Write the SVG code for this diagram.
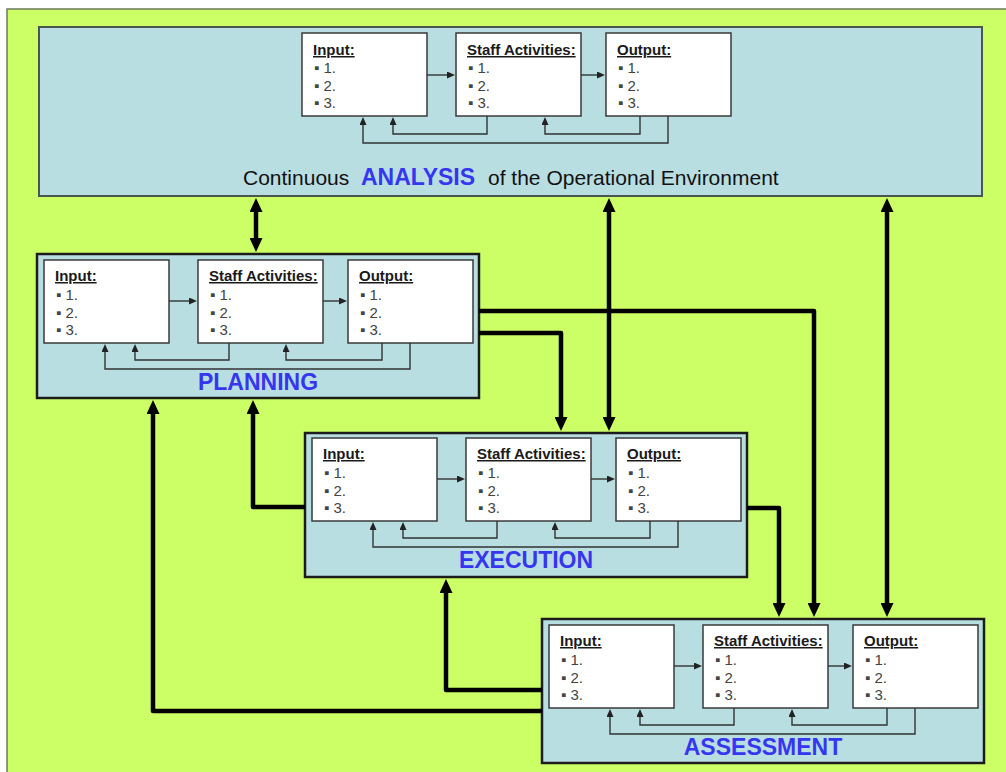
<svg xmlns="http://www.w3.org/2000/svg" width="1006" height="772" viewBox="0 0 1006 772">
  <style>
    .frame { fill: #ccff66; stroke: #6b7a5a; stroke-width: 1.5; }
    .panel { fill: #b9dee2; stroke: #1c1c1c; stroke-width: 2.5; }
    .panel-top { fill: #b9dee2; stroke: #4a5650; stroke-width: 2; }
    .box { fill: #ffffff; stroke: #3a3a3a; stroke-width: 1.5; }
    .head { font-family: "Liberation Sans", Arial, sans-serif; font-size: 15px; font-weight: bold; fill: #1a1a1a; text-decoration: underline; }
    .item { font-family: "Liberation Sans", Arial, sans-serif; font-size: 15px; fill: #444444; }
    .title { font-family: "Liberation Sans", Arial, sans-serif; font-size: 23px; font-weight: bold; fill: #3636f0; text-anchor: middle; }
    .caption { font-family: "Liberation Sans", Arial, sans-serif; font-size: 21px; fill: #111111; }
    .big { fill: none; stroke: #000000; stroke-width: 4.5; stroke-linejoin: round; }
    .small { fill: none; stroke: #333333; stroke-width: 1.4; }
  </style>
  <defs>
    <marker id="bigHead" markerUnits="userSpaceOnUse" markerWidth="15" markerHeight="13" refX="2" refY="6.5" orient="auto-start-reverse">
      <path d="M0,0 L14,6.5 L0,13 Z" fill="#000000"/>
    </marker>
    <marker id="smallHead" markerUnits="userSpaceOnUse" markerWidth="9" markerHeight="8" refX="1" refY="3.5" orient="auto">
      <path d="M0,0 L8,3.5 L0,7 Z" fill="#222222"/>
    </marker>
  </defs>

  <!-- background -->
  <rect width="1006" height="772" fill="#ffffff"/>
  <rect class="frame" x="7" y="9" width="1010" height="780"/>

  <!-- ANALYSIS stage -->
  <g id="analysis">
    <rect class="panel-top" x="39" y="27" width="943" height="169"/>
    <g id="analysis-input">
      <rect class="box" x="302" y="33" width="125" height="83"/>
      <text class="head" x="313" y="55">Input:</text>
      <text class="item" x="314" y="73">▪ 1.</text>
      <text class="item" x="314" y="91">▪ 2.</text>
      <text class="item" x="314" y="108">▪ 3.</text>
    </g>
    <g id="analysis-staff">
      <rect class="box" x="456" y="33" width="125" height="83"/>
      <text class="head" x="467" y="55">Staff Activities:</text>
      <text class="item" x="468" y="73">▪ 1.</text>
      <text class="item" x="468" y="91">▪ 2.</text>
      <text class="item" x="468" y="108">▪ 3.</text>
    </g>
    <g id="analysis-output">
      <rect class="box" x="606" y="33" width="125" height="83"/>
      <text class="head" x="617" y="55">Output:</text>
      <text class="item" x="618" y="73">▪ 1.</text>
      <text class="item" x="618" y="91">▪ 2.</text>
      <text class="item" x="618" y="108">▪ 3.</text>
    </g>
    <text class="caption" x="243" y="185">Continuous</text>
    <text class="title" x="418" y="185">ANALYSIS</text>
    <text class="caption" x="488" y="185">of the Operational Environment</text>
  </g>

  <!-- PLANNING stage -->
  <g id="planning">
    <rect class="panel" x="37" y="254" width="442" height="144"/>
    <g id="planning-input">
      <rect class="box" x="44" y="260" width="125" height="83"/>
      <text class="head" x="55" y="281">Input:</text>
      <text class="item" x="56" y="300">▪ 1.</text>
      <text class="item" x="56" y="318">▪ 2.</text>
      <text class="item" x="56" y="335">▪ 3.</text>
    </g>
    <g id="planning-staff">
      <rect class="box" x="198" y="260" width="125" height="83"/>
      <text class="head" x="209" y="281">Staff Activities:</text>
      <text class="item" x="210" y="300">▪ 1.</text>
      <text class="item" x="210" y="318">▪ 2.</text>
      <text class="item" x="210" y="335">▪ 3.</text>
    </g>
    <g id="planning-output">
      <rect class="box" x="348" y="260" width="125" height="83"/>
      <text class="head" x="359" y="281">Output:</text>
      <text class="item" x="360" y="300">▪ 1.</text>
      <text class="item" x="360" y="318">▪ 2.</text>
      <text class="item" x="360" y="335">▪ 3.</text>
    </g>
    <text class="title" x="258" y="390">PLANNING</text>
  </g>

  <!-- EXECUTION stage -->
  <g id="execution">
    <rect class="panel" x="305" y="433" width="442" height="144"/>
    <g id="execution-input">
      <rect class="box" x="312" y="438" width="125" height="83"/>
      <text class="head" x="323" y="459">Input:</text>
      <text class="item" x="324" y="478">▪ 1.</text>
      <text class="item" x="324" y="496">▪ 2.</text>
      <text class="item" x="324" y="513">▪ 3.</text>
    </g>
    <g id="execution-staff">
      <rect class="box" x="466" y="438" width="125" height="83"/>
      <text class="head" x="477" y="459">Staff Activities:</text>
      <text class="item" x="478" y="478">▪ 1.</text>
      <text class="item" x="478" y="496">▪ 2.</text>
      <text class="item" x="478" y="513">▪ 3.</text>
    </g>
    <g id="execution-output">
      <rect class="box" x="616" y="438" width="125" height="83"/>
      <text class="head" x="627" y="459">Output:</text>
      <text class="item" x="628" y="478">▪ 1.</text>
      <text class="item" x="628" y="496">▪ 2.</text>
      <text class="item" x="628" y="513">▪ 3.</text>
    </g>
    <text class="title" x="526" y="568">EXECUTION</text>
  </g>

  <!-- ASSESSMENT stage -->
  <g id="assessment">
    <rect class="panel" x="542" y="619" width="442" height="144"/>
    <g id="assessment-input">
      <rect class="box" x="549" y="625" width="125" height="83"/>
      <text class="head" x="560" y="646">Input:</text>
      <text class="item" x="561" y="665">▪ 1.</text>
      <text class="item" x="561" y="683">▪ 2.</text>
      <text class="item" x="561" y="700">▪ 3.</text>
    </g>
    <g id="assessment-staff">
      <rect class="box" x="703" y="625" width="125" height="83"/>
      <text class="head" x="714" y="646">Staff Activities:</text>
      <text class="item" x="715" y="665">▪ 1.</text>
      <text class="item" x="715" y="683">▪ 2.</text>
      <text class="item" x="715" y="700">▪ 3.</text>
    </g>
    <g id="assessment-output">
      <rect class="box" x="853" y="625" width="125" height="83"/>
      <text class="head" x="864" y="646">Output:</text>
      <text class="item" x="865" y="665">▪ 1.</text>
      <text class="item" x="865" y="683">▪ 2.</text>
      <text class="item" x="865" y="700">▪ 3.</text>
    </g>
    <text class="title" x="763" y="755">ASSESSMENT</text>
  </g>

  <!-- connectors -->
  <g id="connectors">
    <!-- flow and feedback inside each stage -->
    <g id="inner-links" marker-end="url(#smallHead)">
      <!-- analysis -->
      <path class="small" d="M427,75 H448"/>
      <path class="small" d="M581,75 H598"/>
      <path class="small" d="M487,116 V134 H393 V124"/>
      <path class="small" d="M640,116 V134 H545 V124"/>
      <path class="small" d="M668,116 V143 H363 V124"/>
      <!-- planning -->
      <path class="small" d="M169,301 H190"/>
      <path class="small" d="M323,301 H340"/>
      <path class="small" d="M229,343 V360 H135 V351"/>
      <path class="small" d="M382,343 V360 H286 V351"/>
      <path class="small" d="M410,343 V369 H105 V351"/>
      <!-- execution -->
      <path class="small" d="M437,479 H458"/>
      <path class="small" d="M591,479 H608"/>
      <path class="small" d="M497,521 V538 H403 V529"/>
      <path class="small" d="M650,521 V538 H555 V529"/>
      <path class="small" d="M678,521 V547 H373 V529"/>
      <!-- assessment -->
      <path class="small" d="M674,666 H695"/>
      <path class="small" d="M828,666 H845"/>
      <path class="small" d="M734,708 V725 H640 V716"/>
      <path class="small" d="M887,708 V725 H792 V716"/>
      <path class="small" d="M915,708 V734 H610 V716"/>
    </g>
    <!-- links between stages -->
    <g id="stage-links">
      <path class="big" d="M256,210 V240" marker-start="url(#bigHead)" marker-end="url(#bigHead)"/>
      <path class="big" d="M609,210 V419" marker-start="url(#bigHead)" marker-end="url(#bigHead)"/>
      <path class="big" d="M887,210 V605" marker-start="url(#bigHead)" marker-end="url(#bigHead)"/>
      <path class="big" d="M479,333 H561 V419" marker-end="url(#bigHead)"/>
      <path class="big" d="M479,311 H814 V605" marker-end="url(#bigHead)"/>
      <path class="big" d="M747,508 H779 V605" marker-end="url(#bigHead)"/>
      <path class="big" d="M305,507 H253 V412" marker-end="url(#bigHead)"/>
      <path class="big" d="M542,711 H153 V412" marker-end="url(#bigHead)"/>
      <path class="big" d="M542,690 H446 V591" marker-end="url(#bigHead)"/>
    </g>
  </g>
</svg>
